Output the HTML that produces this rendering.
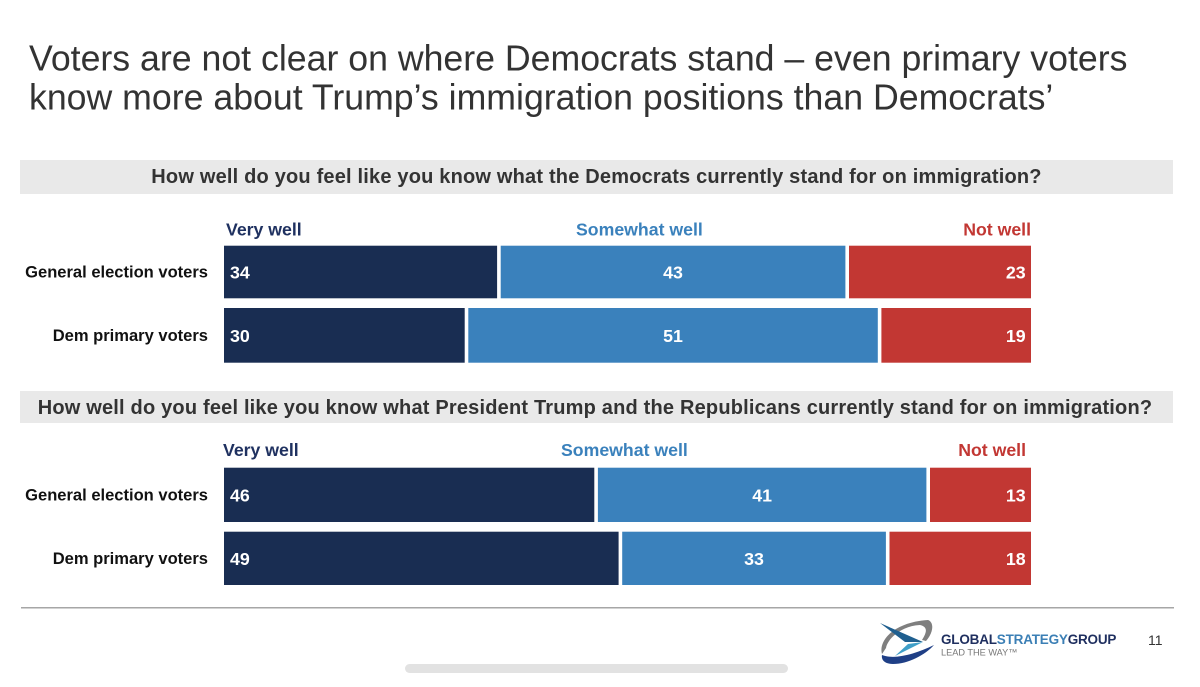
<!DOCTYPE html>
<html lang="en">
<head>
<meta charset="utf-8">
<title>Voters immigration chart</title>
<style>
html,body{margin:0;padding:0;background:#fff;}
svg{display:block;font-family:"Liberation Sans",Arial,sans-serif;}
</style>
</head>
<body>
<svg id="slide" xmlns="http://www.w3.org/2000/svg" width="1200" height="687" viewBox="0 0 1200 687">
  <rect width="1200" height="687" fill="#ffffff"/>
  <text x="29" y="70.5" font-size="35.68" fill="#333333">Voters are not clear on where Democrats stand – even primary voters</text>
  <text x="29" y="109.5" font-size="35.68" fill="#333333">know more about Trump’s immigration positions than Democrats’</text>

  <rect x="20" y="160" width="1153" height="34" fill="#e9e9e9"/>
  <text x="596.5" y="183" font-size="20" font-weight="700" letter-spacing="0.19" fill="#333333" text-anchor="middle">How well do you feel like you know what the Democrats currently stand for on immigration?</text>

  <rect x="20" y="391" width="1153" height="32" fill="#e9e9e9"/>
  <text x="595" y="414" font-size="20" font-weight="700" letter-spacing="0.19" fill="#333333" text-anchor="middle">How well do you feel like you know what President Trump and the Republicans currently stand for on immigration?</text>

  <g id="chart-top"></g>
  <g id="chart-bottom"></g>

  <rect x="21" y="607" width="1153" height="1.5" fill="#a6a6a6"/>

  <g>
    <path d="M882 654 C878 640 895 622 928 620 C934 622 934 632 926 641 L922 640 C927 632 928 627 920 625 C900 626 887 640 886 648 Z" fill="#7f7f7f"/>
    <path d="M882 655 C895 660 915 654 934 645 C925 655 908 664 893 664 C885 664 881 660 882 655 Z" fill="#1f3f86"/>
    <path d="M880 623 L923 642 L905 642 Z" fill="#1f5f8f"/>
    <path d="M923 642 L895 656 L908 644 Z" fill="#3f9fc8"/>
    <text x="941" y="644" font-size="13.5" font-weight="700" fill="#1f2f5f" letter-spacing="-0.2">GLOBAL<tspan fill="#3b7fb5">STRATEGY</tspan>GROUP</text>
    <text x="941" y="655.5" font-size="9.2" fill="#777777">LEAD THE WAY™</text>
  </g>
  <text x="1148" y="645" font-size="14" fill="#333333">11</text>

  <rect x="405" y="664" width="383" height="9" rx="4.5" fill="#e2e2e2"/>
</svg>

<script>
const topCategories = ['General election voters', 'Dem primary voters'];
const bottomCategories = ['General election voters', 'Dem primary voters'];
const seriesNames = ['Very well', 'Somewhat well', 'Not well'];
const topVeryWell = [34, 30];
const topSomewhatWell = [43, 51];
const topNotWell = [23, 19];
const bottomVeryWell = [46, 49];
const bottomSomewhatWell = [41, 33];
const bottomNotWell = [13, 18];

const NS = 'http://www.w3.org/2000/svg';
const colors = ['#192d52', '#3a81bc', '#c23733'];
const legendColors = ['#1f3160', '#3a81bc', '#c23733'];
const xLeft = 223.5;
const xRight = 1033.5;
const halfGap = 1.8;

function xScale(value) {
  return xLeft + (xRight - xLeft) * value / 100;
}

function slug(text) {
  return text.toLowerCase().replace(/\s+/g, '-');
}

function addText(parent, x, y, str, size, fill, anchor) {
  const t = document.createElementNS(NS, 'text');
  t.setAttribute('x', x);
  t.setAttribute('y', y);
  t.setAttribute('font-size', size);
  t.setAttribute('font-weight', '700');
  t.setAttribute('fill', fill);
  t.setAttribute('text-anchor', anchor);
  t.textContent = str;
  parent.appendChild(t);
  return t;
}

function drawChart(groupId, categories, series, rows, legendY, legendX) {
  const group = document.getElementById(groupId);

  seriesNames.forEach(function (name, s) {
    const anchor = s === 2 ? 'end' : 'start';
    const label = addText(group, legendX[s], legendY, name, 17.7, legendColors[s], anchor);
    
    
  });

  categories.forEach(function (category, i) {
    const row = rows[i];
    const catLabel = addText(group, 208, row.top + row.height / 2 + 5.4, category, 16.55, '#111111', 'end');
    
    

    let running = 0;
    series.forEach(function (values, s) {
      const value = values[i];
      const isLast = s === series.length - 1;
      const x0 = s === 0 ? xScale(0) + 0.5 : xScale(running) + halfGap;
      const barEnd = xScale(running + value) - halfGap - (isLast ? 0.7 : 0);

      const bar = document.createElementNS(NS, 'rect');
      bar.setAttribute('x', x0);
      bar.setAttribute('y', row.top);
      bar.setAttribute('width', barEnd - x0);
      bar.setAttribute('height', row.height);
      bar.setAttribute('fill', colors[s]);
      
      
      group.appendChild(bar);

      let labelX = (x0 + barEnd) / 2;
      let anchor = 'middle';
      if (s === 0) { labelX = x0 + 6; anchor = 'start'; }
      if (isLast) { labelX = barEnd - 5.3; anchor = 'end'; }
      const valueLabel = addText(group, labelX, row.top + row.height / 2 + 6.4, String(value), 17.8, '#ffffff', anchor);
      
      

      running += value;
    });
  });
}

drawChart('chart-top', topCategories, [topVeryWell, topSomewhatWell, topNotWell],
  [{ top: 245.7, height: 52.6 }, { top: 308, height: 54.7 }], 235.5, [226, 576, 1031]);
drawChart('chart-bottom', bottomCategories, [bottomVeryWell, bottomSomewhatWell, bottomNotWell],
  [{ top: 467.7, height: 54.3 }, { top: 531.7, height: 53.3 }], 456, [223, 561, 1026]);
</script>
</body>
</html>
